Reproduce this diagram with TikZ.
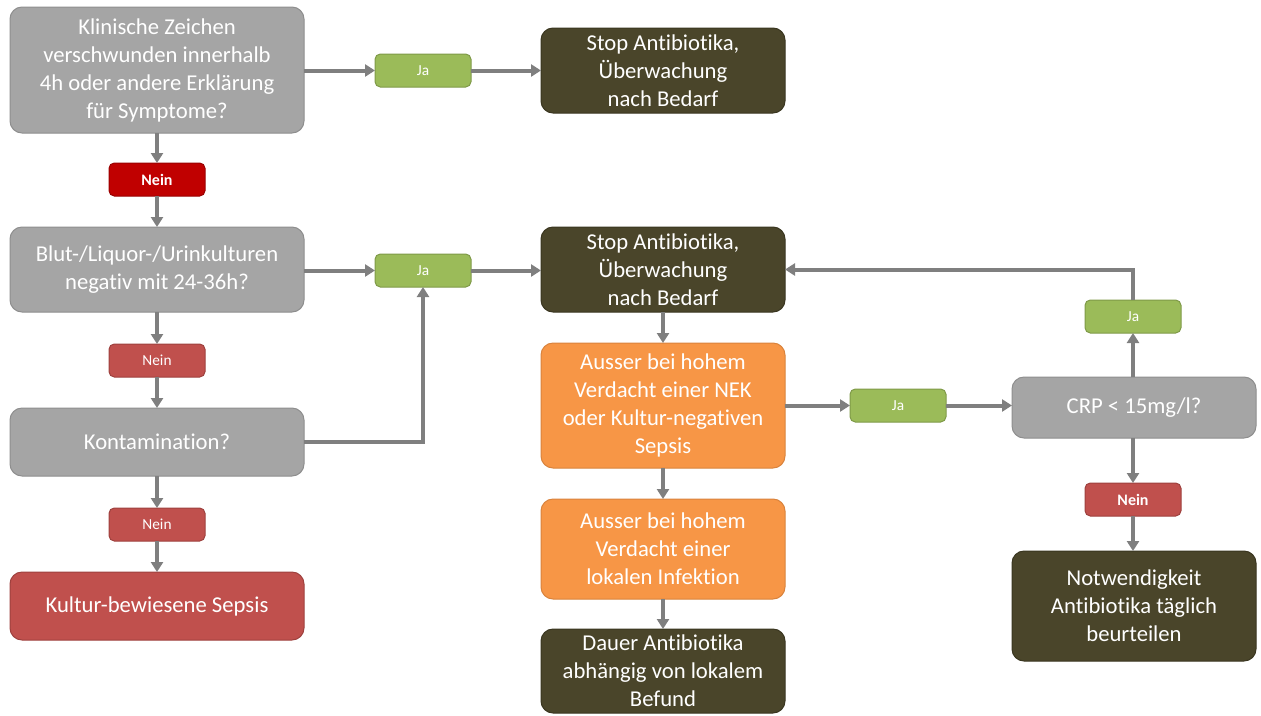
\documentclass[tikz,border=0pt]{standalone}
\usepackage{fontspec}
\setmainfont[Ligatures={NoCommon,NoRare}]{Carlito}
\usetikzlibrary{arrows.meta}
\definecolor{boxgray}{HTML}{A5A5A5}
\definecolor{boxgrayb}{HTML}{8E8E8E}
\definecolor{darkol}{HTML}{4A452A}
\definecolor{darkolb}{HTML}{3A3620}
\definecolor{orng}{HTML}{F79646}
\definecolor{orngb}{HTML}{D9833D}
\definecolor{grn}{HTML}{9BBB59}
\definecolor{grnb}{HTML}{7F9A48}
\definecolor{redA}{HTML}{C00000}
\definecolor{redAb}{HTML}{9A0000}
\definecolor{redB}{HTML}{C0504D}
\definecolor{redBb}{HTML}{9E413E}
\definecolor{arrgray}{HTML}{7F7F7F}
\tikzset{
  base/.style={rounded corners=9pt, line width=0.75pt, inner sep=0pt, outer sep=0pt,
    align=center, text=white, font={\fontsize{17}{21}\selectfont}},
  bigbox/.style={base, minimum width=183pt},
  leftbox/.style={base, minimum width=220.5pt},
  graybox/.style={bigbox, fill=boxgray, draw=boxgrayb},
  lgraybox/.style={leftbox, fill=boxgray, draw=boxgrayb},
  darkbox/.style={bigbox, fill=darkol, draw=darkolb},
  orbox/.style={bigbox, fill=orng, draw=orngb},
  redbox/.style={leftbox, fill=redB, draw=redBb},
  lbl/.style={base, rounded corners=4pt, minimum width=72pt, minimum height=24.75pt, font={\fontsize{11.5}{13}\selectfont}},
  jalbl/.style={lbl, fill=grn, draw=grnb},
  neinA/.style={lbl, fill=redA, draw=redAb, font={\fontsize{12}{13}\selectfont\bfseries}},
  neinB/.style={lbl, fill=redB, draw=redBb},
  arr/.style={draw=arrgray, line width=3pt, -{Triangle[length=7.5pt,width=9pt]}}
}
\begin{document}
\begin{tikzpicture}[x=0.75pt,y=-0.75pt]
\useasboundingbox (0,0) rectangle (1261,715);
% left column
\node[lgraybox, minimum height=94.5pt] (b1) at (157,70) {Klinische Zeichen\\verschwunden innerhalb\\4h oder andere Erklärung\\für Symptome?};
\node[neinA] (n1) at (157,179.5) {Nein};
\node[lgraybox, minimum height=63.75pt] (b2) at (157,269.5) {Blut-/Liquor-/Urinkulturen\\negativ mit 24-36h?};
\node[neinB] (n2) at (157,360.5) {Nein};
\node[lgraybox, minimum height=51pt] (b3) at (157,442) {Kontamination?};
\node[neinB] (n3) at (157,524.5) {Nein};
\node[redbox, minimum height=51pt] (b4) at (157,606) {Kultur-bewiesene Sepsis};
% Ja labels
\node[jalbl] (ja1) at (423,70.5) {Ja};
\node[jalbl] (ja2) at (423,270.5) {Ja};
% middle column
\node[darkbox, minimum height=63.75pt] (s1) at (663,70.5) {Stop Antibiotika,\\Überwachung\\nach Bedarf};
\node[darkbox, minimum height=63.75pt] (s2) at (663,269.5) {Stop Antibiotika,\\Überwachung\\nach Bedarf};
\node[orbox, minimum height=93.75pt] (o1) at (663,405.5) {Ausser bei hohem\\Verdacht einer NEK\\oder Kultur-negativen\\Sepsis};
\node[orbox, minimum height=75pt] (o2) at (663,549) {Ausser bei hohem\\Verdacht einer\\lokalen Infektion};
\node[darkbox, minimum height=63pt] (d1) at (663,671) {Dauer Antibiotika\\abhängig von lokalem\\Befund};
% right column
\node[jalbl] (ja3) at (898,405.5) {Ja};
\node[graybox, minimum height=45.75pt] (crp) at (1134,407.5) {CRP < 15mg/l?};
\node[jalbl] (ja4) at (1133,316.5) {Ja};
\node[neinA, fill=redB, draw=redBb] (n4) at (1133,499.5) {Nein};
\node[darkbox, minimum height=82.5pt] (nw) at (1134,606) {Notwendigkeit\\Antibiotika täglich\\beurteilen};
% connectors
\draw[arr] (b1.east |- ja1) -- (ja1.west);
\draw[arr] (ja1.east) -- (s1.west |- ja1);
\draw[arr] (b1.south -| n1) -- (n1.north);
\draw[arr] (n1.south) -- (b2.north -| n1);
\draw[arr] (b2.east |- ja2) -- (ja2.west);
\draw[arr] (ja2.east) -- (s2.west |- ja2);
\draw[arr] (b2.south -| n2) -- (n2.north);
\draw[arr] (n2.south) -- (b3.north -| n2);
\draw[arr] (b3.east) -| (ja2.south);
\draw[arr] (b3.south -| n3) -- (n3.north);
\draw[arr] (n3.south) -- (b4.north -| n3);
\draw[arr] (s2.south) -- (o1.north);
\draw[arr] (o1.south) -- (o2.north);
\draw[arr] (o2.south) -- (d1.north);
\draw[arr] (o1.east |- ja3) -- (ja3.west);
\draw[arr] (ja3.east) -- (crp.west |- ja3);
\draw[arr] (crp.north -| ja4) -- (ja4.south);
\draw[arr] (ja4.north) |- (s2.east);
\draw[arr] (crp.south -| n4) -- (n4.north);
\draw[arr] (n4.south) -- (nw.north -| n4);
\end{tikzpicture}
\end{document}
